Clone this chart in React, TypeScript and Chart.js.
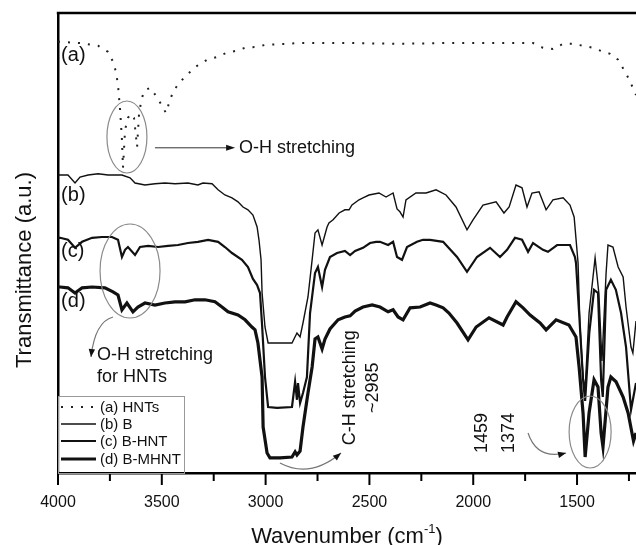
import React, { useEffect, useRef } from 'react';
import { Chart, registerables } from 'chart.js';

Chart.register(...registerables);

// ---- axis ticks ----
const xTickValues = [4000, 3750, 3500, 3250, 3000, 2750, 2500, 2250, 2000, 1750, 1500, 1250];
const xTickLabels: Record<number, string> = { 4000: '4000', 3500: '3500', 3000: '3000', 2500: '2500', 2000: '2000', 1500: '1500' };

// ---- series: [wavenumber (cm-1), transmittance (a.u.)] ----
const seriesHNTs: [number, number][] = [
  [4000, 107.8], [3990, 107.8], [3894, 107.5], [3807, 106.8], [3759, 105.3], [3735, 102.8], [3721, 100.3],
  [3711, 97], [3701, 90.8], [3692, 83.3], [3687, 76.3], [3677, 85.8], [3663, 88.8], [3648, 89.8],
  [3634, 88.8], [3619, 81.5], [3610, 89.5], [3600, 92.8], [3586, 95.5], [3557, 96.3], [3523, 94],
  [3499, 91.8], [3480, 90], [3465, 92.5], [3446, 95.3], [3417, 97.5], [3374, 99.8], [3330, 101.8],
  [3282, 103.3], [3234, 104], [3191, 105], [3147, 105.5], [3099, 106.3], [3051, 106.5], [3003, 107],
  [2834, 107.5], [2593, 107.5], [2372, 107.3], [2112, 107.5], [1871, 107.5], [1712, 107.5], [1664, 106.3],
  [1616, 106], [1567, 107.3], [1519, 107.3], [1471, 106.8], [1423, 106.3], [1384, 105.5], [1341, 104.8],
  [1302, 103.3], [1274, 100.8], [1250, 98.5], [1216, 94.5],
];

const seriesB: [number, number][] = [
  [4000, 74.5], [3952, 74.5], [3918, 72.5], [3894, 74], [3855, 74.5], [3807, 74.8], [3759, 74.5],
  [3692, 74.5], [3653, 73.8], [3629, 72.5], [3581, 72], [3533, 72.3], [3485, 72.5], [3436, 72.3],
  [3374, 72.5], [3326, 72], [3302, 72.5], [3258, 72.3], [3229, 70.8], [3196, 69.5], [3162, 68.8],
  [3133, 67.8], [3109, 66.5], [3085, 65.8], [3061, 64.5], [3041, 61.5], [3032, 58.3], [3022, 53.3],
  [3017, 45], [3003, 36.5], [2988, 32.5], [2945, 32.5], [2873, 32.5], [2849, 35], [2834, 34], [2820, 37.5],
  [2796, 44], [2776, 53.3], [2762, 60], [2748, 60.8], [2728, 57], [2704, 61.5], [2695, 62.5],
  [2675, 63.3], [2646, 65], [2618, 65.8], [2598, 65.8], [2584, 67], [2550, 68.3], [2531, 68.8],
  [2502, 69.5], [2454, 70], [2420, 69], [2386, 70], [2367, 66], [2353, 65.3], [2338, 64], [2324, 68.3],
  [2276, 70], [2227, 70], [2179, 70.8], [2131, 69.5], [2083, 66.5], [2030, 60.8], [2001, 63.3],
  [1953, 67], [1890, 67.8], [1852, 65], [1827, 66.5], [1794, 72], [1765, 71.3], [1741, 66.5],
  [1717, 70], [1683, 70.3], [1649, 65.8], [1616, 68.3], [1567, 68.8], [1534, 67], [1514, 64],
  [1495, 52.5], [1486, 37], [1471, 24], [1461, 21], [1442, 40], [1413, 53.8], [1395, 45],
  [1380, 28], [1360, 50], [1351, 57], [1327, 56.5], [1302, 51.5], [1278, 49], [1264, 41.5],
  [1240, 31.5], [1231, 30], [1216, 38],
];

const seriesBHNT: [number, number][] = [
  [4000, 58.8], [3990, 58.8], [3952, 58.3], [3918, 56.3], [3884, 57.8], [3836, 58.8], [3788, 59],
  [3740, 59], [3711, 58.3], [3692, 54], [3677, 55.8], [3663, 56.5], [3629, 54.5], [3605, 56.5],
  [3566, 56.8], [3518, 56.5], [3470, 56.8], [3422, 57], [3374, 57.5], [3326, 57.8], [3277, 58.3],
  [3229, 57.8], [3196, 56.5], [3162, 55], [3114, 53.3], [3085, 51.5], [3061, 48.5], [3041, 47],
  [3027, 45], [3017, 37], [3003, 24], [2988, 16.5], [2945, 16.3], [2873, 16.5], [2858, 22.8],
  [2849, 18.3], [2844, 22.5], [2834, 17.5], [2820, 20], [2801, 24], [2786, 40], [2762, 50],
  [2748, 51.5], [2728, 46.5], [2714, 50.8], [2690, 54], [2656, 55], [2618, 55.5], [2593, 54.5],
  [2569, 55.5], [2531, 56.3], [2497, 57.5], [2468, 57.8], [2449, 57.8], [2410, 57], [2386, 57.8],
  [2367, 54], [2343, 53.3], [2319, 56.5], [2271, 57.8], [2242, 58.3], [2208, 58.3], [2145, 57.8],
  [2078, 54], [2030, 50.3], [1982, 54], [1919, 56.3], [1871, 54], [1837, 55.8], [1799, 58.8],
  [1765, 58.3], [1736, 55.3], [1712, 57.5], [1664, 55.8], [1640, 55.3], [1596, 57], [1534, 57],
  [1510, 54], [1505, 52.5], [1490, 40], [1471, 23.3], [1461, 18], [1441, 35], [1418, 45.8],
  [1399, 45], [1384, 23.3], [1376, 19], [1360, 45.8], [1337, 48.3], [1313, 45.8], [1288, 40],
  [1264, 31.5], [1240, 15.8], [1216, 22.5],
];

const seriesBMHNT: [number, number][] = [
  [4000, 46.5], [3990, 46.5], [3952, 46.3], [3918, 45], [3884, 46.3], [3836, 46.5], [3774, 46.3],
  [3735, 45.3], [3711, 44.5], [3692, 40.8], [3668, 42.5], [3639, 40.3], [3615, 41.5], [3581, 42.5],
  [3533, 42], [3485, 42.5], [3436, 42.8], [3388, 42.8], [3340, 43.3], [3292, 43.3], [3244, 42.8],
  [3210, 41.5], [3181, 40.3], [3133, 39.5], [3099, 38.3], [3066, 36.5], [3051, 35.8], [3037, 32.5],
  [3017, 24], [3012, 11.5], [2993, 5], [2979, 3.8], [2931, 3.8], [2873, 4], [2858, 5.3], [2849, 4.5],
  [2834, 5.5], [2820, 11.5], [2796, 20], [2776, 26.5], [2762, 33.5], [2748, 34], [2728, 31],
  [2714, 33.5], [2690, 36], [2651, 38.3], [2618, 39], [2593, 39.3], [2569, 40.5], [2531, 41.5],
  [2487, 42], [2449, 41.5], [2410, 40.3], [2386, 40.8], [2362, 39], [2338, 38.3], [2304, 41.3],
  [2256, 41.5], [2208, 42.5], [2179, 42], [2145, 41.3], [2117, 40], [2078, 37.5], [2025, 33.3],
  [1986, 36.5], [1924, 38.8], [1856, 37], [1837, 39], [1794, 42.8], [1760, 41.3], [1726, 39.5],
  [1678, 37.5], [1649, 35.8], [1601, 38.3], [1539, 37], [1505, 34], [1490, 26.5], [1471, 15],
  [1461, 4], [1442, 15], [1418, 23.3], [1399, 21.5], [1384, 10], [1375, 6.5], [1351, 21.5],
  [1337, 24], [1312, 22.8], [1278, 19], [1254, 15], [1228, 8], [1216, 10],
];

const legendLabels = ['(a) HNTs', '(b) B', '(c) B-HNT', '(d) B-MHNT'];
const curveTags = ['(a)', '(b)', '(c)', '(d)'];
const curveTagLevels = [104.3, 69.5, 55.3, 42.8];

const FONT = '"Liberation Sans", Arial, Helvetica, sans-serif';
const INK = '#111';
const GREY = '#8a8a8a';

function arrowHead(ctx: CanvasRenderingContext2D, tx: number, ty: number, ang: number, len = 8, half = 3.2) {
  const c = Math.cos(ang), s = Math.sin(ang);
  ctx.beginPath();
  ctx.moveTo(tx, ty);
  ctx.lineTo(tx - len * c + half * s, ty - len * s - half * c);
  ctx.lineTo(tx - len * c - half * s, ty - len * s + half * c);
  ctx.closePath();
  ctx.fill();
}

const annotPlugin = {
  id: 'ftirAnnot',
  afterDatasetsDraw(chart: any) {
    const { ctx, chartArea: ca, scales } = chart;
    const xs = scales.x, ys = scales.y;
    const P = (wn: number, t: number): [number, number] => [xs.getPixelForValue(wn), ys.getPixelForValue(t)];
    ctx.save();

    // top frame line
    ctx.strokeStyle = '#000';
    ctx.lineWidth = 2.5;
    ctx.beginPath();
    ctx.moveTo(ca.left - 1.2, ca.top);
    ctx.lineTo(ca.right, ca.top);
    ctx.stroke();

    // x tick marks (major / minor)
    ctx.lineWidth = 2;
    for (const v of xTickValues) {
      const px = xs.getPixelForValue(v);
      const len = v % 500 === 0 ? 12 : 8;
      ctx.beginPath();
      ctx.moveTo(px, ca.bottom);
      ctx.lineTo(px, ca.bottom + len);
      ctx.stroke();
    }

    // ellipses
    ctx.strokeStyle = GREY;
    ctx.lineWidth = 1.2;
    const ellipses = [
      { wn: 3668, t: 84, rx: 20, ry: 36 },
      { wn: 3653, t: 50.5, rx: 30, ry: 47 },
      { wn: 1437, t: 10.25, rx: 21, ry: 36 },
    ];
    for (const e of ellipses) {
      const [cx, cy] = P(e.wn, e.t);
      ctx.beginPath();
      ctx.ellipse(cx, cy, e.rx, e.ry, 0, 0, Math.PI * 2);
      ctx.stroke();
    }

    // straight arrow to "O-H stretching"
    {
      const [x0, y0] = P(3533, 81.3);
      const [x1] = P(3147, 81.3);
      ctx.strokeStyle = '#333';
      ctx.fillStyle = '#111';
      ctx.lineWidth = 1;
      ctx.beginPath();
      ctx.moveTo(x0, y0);
      ctx.lineTo(x1 - 6, y0);
      ctx.stroke();
      arrowHead(ctx, x1, y0, 0, 9, 3);
    }

    // curved arrows
    const curved = [
      { s: [3735, 39], c: [3822, 37.8], t: [3841, 29] },
      { s: [2931, 2.5], c: [2786, -1.5], t: [2637, 5] },
      { s: [1736, 10], c: [1693, 3.25], t: [1553, 5] },
    ];
    for (const a of curved) {
      const [sx, sy] = P(a.s[0], a.s[1]);
      const [cx, cy] = P(a.c[0], a.c[1]);
      const [tx, ty] = P(a.t[0], a.t[1]);
      ctx.strokeStyle = '#777';
      ctx.lineWidth = 1.2;
      ctx.beginPath();
      ctx.moveTo(sx, sy);
      ctx.quadraticCurveTo(cx, cy, tx, ty);
      ctx.stroke();
      ctx.fillStyle = '#111';
      arrowHead(ctx, tx, ty, Math.atan2(ty - cy, tx - cx), 8, 3.2);
    }

    // texts
    ctx.fillStyle = INK;
    ctx.font = `18px ${FONT}`;
    ctx.textAlign = 'left';
    ctx.textBaseline = 'middle';
    {
      const [x, y] = P(3128, 81.3);
      ctx.fillText('O-H stretching', x, y);
      const [x2, y2] = P(3812, 29.5);
      ctx.fillText('O-H stretching', x2, y2);
      const [x3, y3] = P(3812, 24);
      ctx.fillText('for HNTs', x3, y3);
    }
    // rotated texts
    const rotText = (lines: string[], wn: number, t: number, lh: number) => {
      const [x, y] = P(wn, t);
      ctx.save();
      ctx.translate(x, y);
      ctx.rotate(-Math.PI / 2);
      ctx.textAlign = 'center';
      ctx.textBaseline = 'middle';
      lines.forEach((ln, i) => ctx.fillText(ln, 0, (i - (lines.length - 1) / 2) * lh));
      ctx.restore();
    };
    rotText(['C-H stretching', '~2985'], 2540, 21.3, 23);
    rotText(['1459'], 1958, 10, 0);
    rotText(['1374'], 1828, 10, 0);

    // curve tags
    ctx.font = `20px ${FONT}`;
    ctx.textAlign = 'left';
    ctx.textBaseline = 'middle';
    curveTags.forEach((tag, i) => {
      const [x, y] = P(3985, curveTagLevels[i]);
      ctx.fillText(tag, x, y);
    });

    // legend box
    const lx = ca.left, lw = 126, lh = 77, ly = ca.bottom - lh;
    ctx.fillStyle = '#fff';
    ctx.fillRect(lx + 1.3, ly, lw - 1.3, lh - 1.3);
    ctx.strokeStyle = '#999';
    ctx.lineWidth = 1;
    ctx.strokeRect(lx + 0.5, ly + 0.5, lw, lh);
    const rows = [11, 28, 45, 63];
    const ds = chart.data.datasets;
    ctx.font = `15px ${FONT}`;
    rows.forEach((ry, i) => {
      const d = ds[i];
      ctx.strokeStyle = d.borderColor;
      ctx.lineWidth = d.borderWidth;
      ctx.setLineDash(d.borderDash || []);
      ctx.beginPath();
      ctx.moveTo(lx + 3, ly + ry);
      ctx.lineTo(lx + 38, ly + ry);
      ctx.stroke();
      ctx.setLineDash([]);
      ctx.fillStyle = INK;
      ctx.fillText(legendLabels[i], lx + 42, ly + ry + 0.5);
    });

    // axis titles
    ctx.fillStyle = INK;
    ctx.font = `22px ${FONT}`;
    ctx.textBaseline = 'alphabetic';
    {
      const main = 'Wavenumber (cm';
      const sup = '-1';
      const close = ')';
      const w1 = ctx.measureText(main).width;
      const w3 = ctx.measureText(close).width;
      ctx.font = `13px ${FONT}`;
      const w2 = ctx.measureText(sup).width;
      const total = w1 + w2 + w3;
      const cx = (ca.left + ca.right) / 2;
      const base = ca.bottom + 70;
      let x = cx - total / 2;
      ctx.font = `22px ${FONT}`;
      ctx.textAlign = 'left';
      ctx.fillText(main, x, base);
      x += w1;
      ctx.font = `13px ${FONT}`;
      ctx.fillText(sup, x, base - 10);
      x += w2;
      ctx.font = `22px ${FONT}`;
      ctx.fillText(close, x, base);
    }
    {
      ctx.save();
      ctx.translate(31, ca.top + 257);
      ctx.rotate(-Math.PI / 2);
      ctx.textAlign = 'center';
      ctx.textBaseline = 'alphabetic';
      ctx.fillText('Transmittance (a.u.)', 0, 0);
      ctx.restore();
    }
    ctx.restore();
  },
};

export default function App() {
  const canvasRef = useRef<HTMLCanvasElement | null>(null);

  useEffect(() => {
    if (!canvasRef.current) return;
    const toXY = (s: [number, number][]) => s.map(([x, y]) => ({ x, y }));
    const chart = new Chart(canvasRef.current, {
      type: 'line',
      data: {
        datasets: [
          { label: '(a) HNTs', data: toXY(seriesHNTs), borderColor: '#222', borderWidth: 2, borderDash: [2, 8], pointRadius: 0, tension: 0 },
          { label: '(b) B', data: toXY(seriesB), borderColor: '#111', borderWidth: 1.4, pointRadius: 0, tension: 0 },
          { label: '(c) B-HNT', data: toXY(seriesBHNT), borderColor: '#111', borderWidth: 2.2, pointRadius: 0, tension: 0 },
          { label: '(d) B-MHNT', data: toXY(seriesBMHNT), borderColor: '#111', borderWidth: 3.2, pointRadius: 0, tension: 0 },
        ],
      },
      options: {
        animation: false,
        responsive: false,
        layout: { padding: { top: 13, left: 0, right: 0, bottom: 0 } },
        plugins: { legend: { display: false }, tooltip: { enabled: false } },
        scales: {
          x: {
            type: 'linear',
            reverse: true,
            min: 1216,
            max: 4000,
            // descending order: the unlabeled 1250 tick is last, so no right padding is reserved
            afterBuildTicks: (scale: any) => {
              scale.ticks = xTickValues.map((v) => ({ value: v }));
            },
            afterFit: (scale: any) => {
              scale.height = 72;
              scale.paddingRight = 0;
            },
            grid: { display: false, drawTicks: false },
            border: { display: true, color: '#000', width: 2.5 },
            ticks: {
              autoSkip: false,
              maxRotation: 0,
              padding: 20,
              color: INK,
              font: { family: FONT, size: 16 },
              callback: (v: any) => xTickLabels[Number(v)] ?? '',
            },
            title: { display: false },
          },
          y: {
            type: 'linear',
            min: 0,
            max: 115,
            afterFit: (scale: any) => {
              scale.width = 58;
            },
            grid: { display: false, drawTicks: false },
            border: { display: true, color: '#000', width: 2.5 },
            ticks: { display: false },
            title: { display: false },
          },
        },
      },
      plugins: [annotPlugin],
    });
    return () => chart.destroy();
  }, []);

  return (
    <div style={{ position: 'fixed', left: 0, top: 0, width: 636, height: 545, background: '#fff' }}>
      <canvas ref={canvasRef} width={636} height={545} style={{ display: 'block' }} />
    </div>
  );
}
